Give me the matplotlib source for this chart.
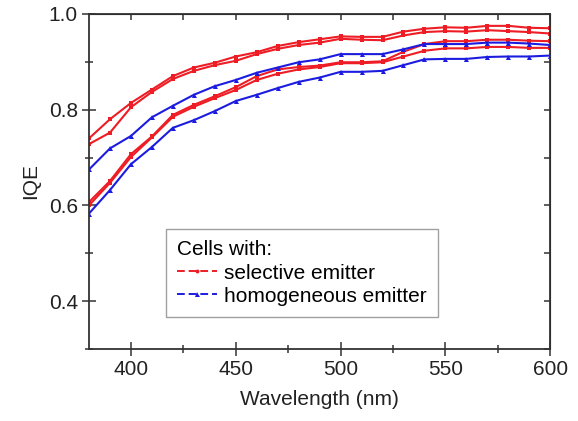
import matplotlib
matplotlib.use("Agg")
import matplotlib.pyplot as plt
from matplotlib.lines import Line2D
from matplotlib.ticker import MultipleLocator

plt.rcParams['font.family'] = ['Liberation Sans', 'DejaVu Sans']

# wavelength grid (nm)
wavelength = list(range(380, 601, 10))

# selective emitter cells (red)
sel_1 = [0.740, 0.780, 0.814, 0.842, 0.870, 0.888, 0.898, 0.911, 0.920, 0.933, 0.941, 0.947,
         0.953, 0.952, 0.952, 0.963, 0.969, 0.972, 0.971, 0.975, 0.975, 0.971, 0.970]
sel_2 = [0.728, 0.752, 0.805, 0.837, 0.864, 0.881, 0.893, 0.902, 0.916, 0.927, 0.935, 0.940,
         0.948, 0.946, 0.945, 0.955, 0.962, 0.964, 0.963, 0.966, 0.964, 0.962, 0.959]
sel_3 = [0.607, 0.651, 0.707, 0.744, 0.789, 0.810, 0.828, 0.847, 0.870, 0.884, 0.889, 0.892,
         0.899, 0.899, 0.901, 0.921, 0.937, 0.943, 0.943, 0.946, 0.946, 0.944, 0.943]
sel_4 = [0.600, 0.647, 0.701, 0.742, 0.785, 0.806, 0.824, 0.841, 0.862, 0.875, 0.884, 0.889,
         0.897, 0.897, 0.899, 0.911, 0.923, 0.928, 0.928, 0.931, 0.931, 0.929, 0.929]

# homogeneous emitter cells (blue)
hom_1 = [0.675, 0.719, 0.745, 0.784, 0.808, 0.831, 0.849, 0.862, 0.877, 0.888, 0.899, 0.905,
         0.916, 0.916, 0.916, 0.926, 0.937, 0.937, 0.937, 0.940, 0.940, 0.938, 0.935]
hom_2 = [0.583, 0.632, 0.686, 0.722, 0.762, 0.778, 0.797, 0.818, 0.831, 0.845, 0.858, 0.867,
         0.879, 0.879, 0.881, 0.893, 0.905, 0.906, 0.906, 0.910, 0.911, 0.911, 0.913]

red = '#ee1c24'
blue = '#1c1ce0'
fs = 15

fig = plt.figure(figsize=(5.78, 4.21), dpi=100)
ax = fig.add_axes([0.154, 0.171, 0.798, 0.796])

for s in [sel_1, sel_2, sel_3, sel_4]:
    ax.plot(wavelength, s, color=red, lw=1.5, marker='s', ms=2.8, mew=0)
for h in [hom_1, hom_2]:
    ax.plot(wavelength, h, color=blue, lw=1.5, marker='^', ms=3.6, mew=0)

ax.set_xlim(380, 600)
ax.set_ylim(0.3, 1.0)
ax.xaxis.set_major_locator(MultipleLocator(50))
ax.xaxis.set_minor_locator(MultipleLocator(25))
ax.yaxis.set_minor_locator(MultipleLocator(0.1))
ax.set_yticks([0.4, 0.6, 0.8, 1.0])
ax.set_yticklabels(['0.4', '0.6', '0.8', '1.0'])

ax.tick_params(which='major', direction='inout', length=10, width=1.1, labelsize=fs,
               colors='#333333', labelcolor='#222222', pad=3)
ax.tick_params(which='minor', direction='inout', length=6, width=1.1, colors='#333333')

for sp in ax.spines.values():
    sp.set_linewidth(1.3)
    sp.set_color('#333333')

# ticks on top and right pointing inward
top = ax.secondary_xaxis('top')
top.xaxis.set_major_locator(MultipleLocator(25))
top.tick_params(direction='in', length=4.5, width=1.1, labeltop=False, colors='#333333')
right = ax.secondary_yaxis('right')
right.yaxis.set_major_locator(MultipleLocator(0.1))
right.tick_params(direction='in', length=4.5, width=1.1, labelright=False, colors='#333333')

ax.set_xlabel('Wavelength (nm)', fontsize=fs, color='#222222', labelpad=8)
ax.set_ylabel('IQE', fontsize=fs, color='#222222', labelpad=6)

handles = [Line2D([], [], color=red, lw=1.4, ls=(0, (4, 2)), marker='o', ms=2.8, mew=0),
           Line2D([], [], color=blue, lw=1.4, ls=(0, (4, 2)), marker='^', ms=3.6, mew=0)]
leg = ax.legend(handles, ['selective emitter', 'homogeneous emitter'], title='Cells with:',
                loc='lower left', bbox_to_anchor=(0.167, 0.095), borderaxespad=0,
                fontsize=fs, title_fontsize=fs, fancybox=False, handlelength=1.9,
                handletextpad=0.35, labelspacing=0.2, borderpad=0.55, alignment='left')
leg.get_frame().set_edgecolor('#888888')
leg.get_frame().set_linewidth(1.0)
leg._legend_box.sep = 3

fig.savefig('out.png', dpi=100)
